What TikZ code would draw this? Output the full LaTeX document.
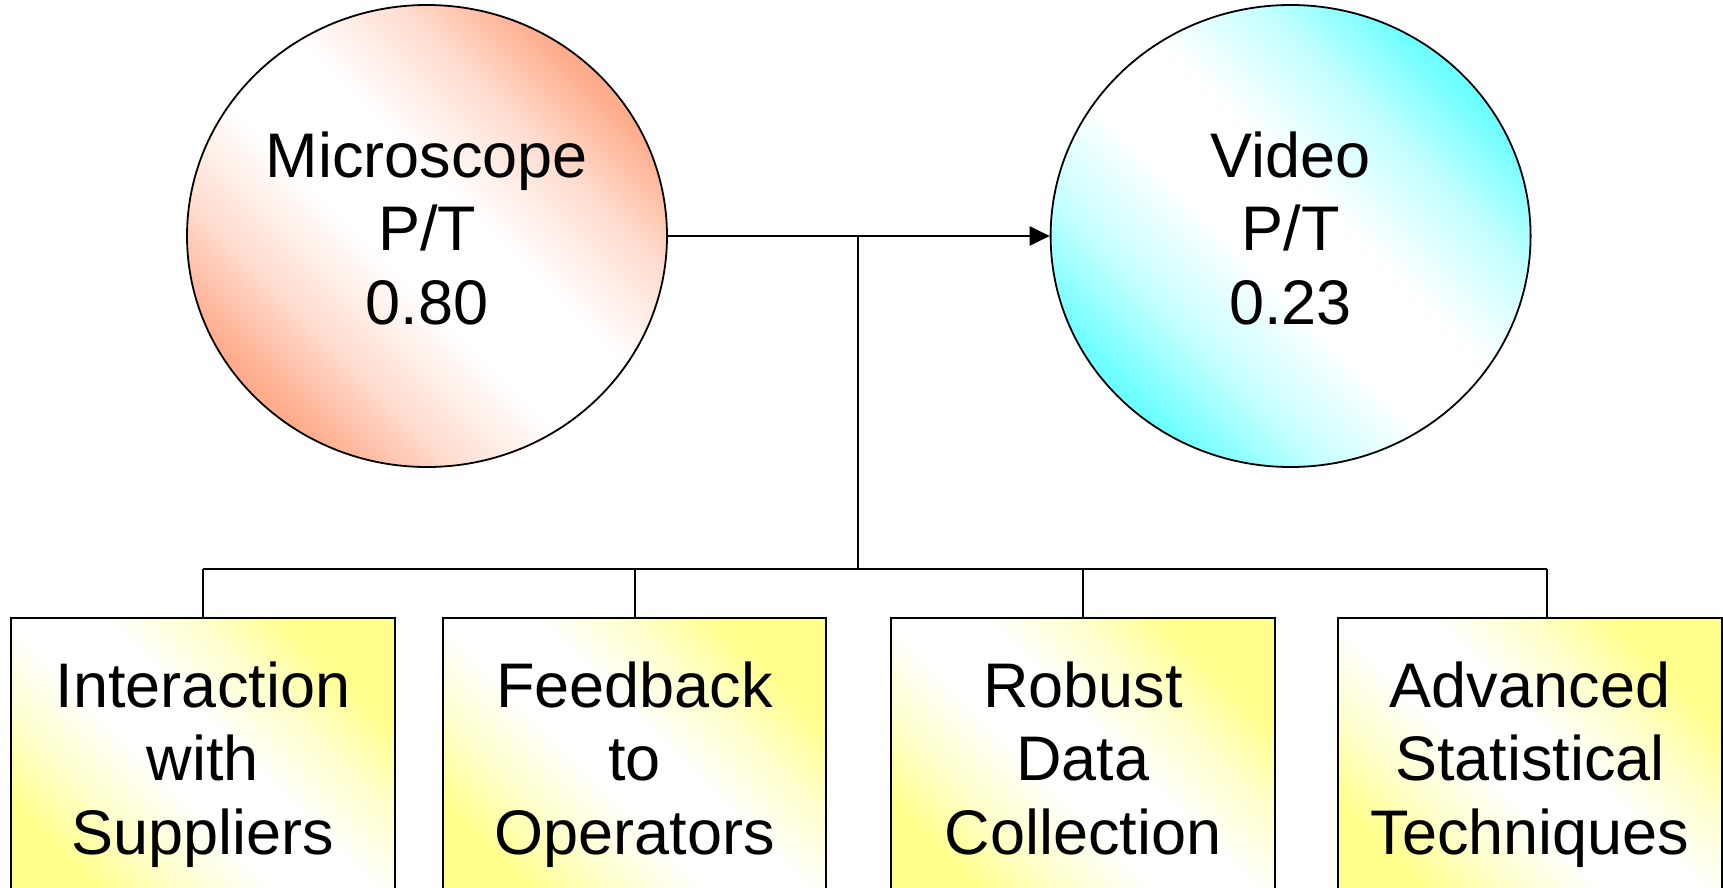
\documentclass[tikz,border=0pt]{standalone}
\usepackage{fontspec}
\setmainfont{Liberation Sans}
\usetikzlibrary{arrows.meta,shapes.geometric}

\definecolor{salmon}{RGB}{255,172,140}
\definecolor{aqua}{RGB}{110,255,255}
\definecolor{lemon}{RGB}{255,255,140}

% diagonal two-tone fills: strong colour in two corners, soft white band between
\pgfdeclareverticalshading{fadesalmon}{100bp}{color(0bp)=(salmon); color(26bp)=(salmon);
  color(35bp)=(salmon!40!white); color(45bp)=(white); color(55bp)=(white);
  color(65bp)=(salmon!40!white); color(74bp)=(salmon); color(100bp)=(salmon)}
\pgfdeclareverticalshading{fadeaqua}{100bp}{color(0bp)=(aqua); color(26bp)=(aqua);
  color(35bp)=(aqua!40!white); color(45bp)=(white); color(55bp)=(white);
  color(65bp)=(aqua!40!white); color(74bp)=(aqua); color(100bp)=(aqua)}
\pgfdeclareverticalshading{fadelemon}{100bp}{color(0bp)=(lemon); color(26bp)=(lemon);
  color(35bp)=(lemon!45!white); color(45bp)=(white); color(55bp)=(white);
  color(65bp)=(lemon!45!white); color(74bp)=(lemon); color(100bp)=(lemon)}

\tikzset{
  every node/.style={font=\fontsize{63}{73.5}\selectfont, align=center, inner sep=0pt},
  ball/.style={ellipse, draw, line width=1.8pt,
    minimum width=480pt, minimum height=462pt,
    shade, shading=#1, shading angle=-45},
  panel/.style={rectangle, draw, line width=2pt,
    minimum width=383.5pt, minimum height=297pt,
    shade, shading=fadelemon, shading angle=-45},
  wire/.style={draw, line width=2pt},
}

\begin{document}
\begin{tikzpicture}[x=1pt, y=-1pt]
  \useasboundingbox (0,0) rectangle (1723,888);
  \clip (0,0) rectangle (1723,888);

  % the two inspection methods
  \node[ball=fadesalmon] (mic) at (427,236) {\strut Microscope\\P/T\\0.80\strut};
  \node[ball=fadeaqua]   (vid) at (1290.6,236) {\strut Video\\P/T\\0.23\strut};

  % improvement actions (boxes run off the lower edge)
  \node[panel] (b1) at (203,766)    {\strut Interaction\\with\\Suppliers\strut};
  \node[panel] (b2) at (634.5,766)  {\strut Feedback\\to\\Operators\strut};
  \node[panel] (b3) at (1083,766)   {\strut Robust\\Data\\Collection\strut};
  \node[panel] (b4) at (1530,766)   {\strut Advanced\\Statistical\\Techniques\strut};

  % junction points of the tree
  \coordinate (fork)   at (858,236);
  \coordinate (busmid) at (858,569);
  \coordinate (busL)   at (203,569);
  \coordinate (busR)   at (1547,569);

  % main arrow
  \draw[wire, -{Triangle[length=20pt, width=19pt]}] (mic.east) -- (vid.west);

  % stem and bus
  \draw[wire] (fork) -- (busmid);
  \draw[wire] (busL) -- (busR);

  % drops to each box
  \draw[wire] (busL) -- (busL |- b1.north);
  \draw[wire] (b2.north |- busmid) -- (b2.north);
  \draw[wire] (b3.north |- busmid) -- (b3.north);
  \draw[wire] (busR) -- (busR |- b4.north);
\end{tikzpicture}
\end{document}
